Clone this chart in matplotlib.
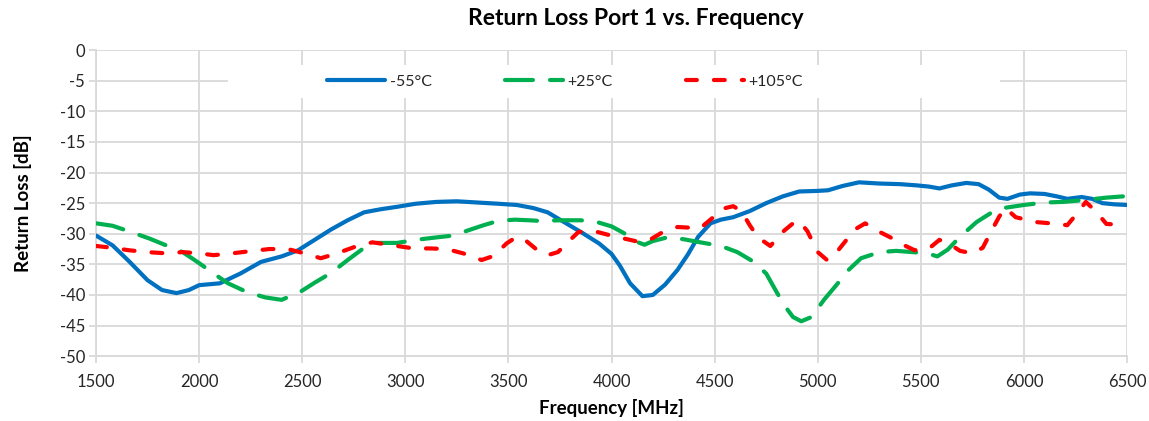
import matplotlib
matplotlib.use("Agg")
import matplotlib.pyplot as plt
from matplotlib.patches import Rectangle

plt.rcParams['font.family'] = ['Lato', 'DejaVu Sans']

# -55 C
freq_m55 = [1500, 1580, 1660, 1750, 1820, 1890, 1950, 2000, 2100, 2200, 2300, 2400,
            2480, 2560, 2640, 2720, 2800, 2880, 2960, 3050, 3150, 3250, 3350, 3450,
            3540, 3620, 3690, 3780, 3860, 3940, 4000, 4040, 4090, 4150, 4200, 4260,
            4320, 4370, 4420, 4480, 4530, 4590, 4670, 4750, 4830, 4910, 5000, 5050,
            5120, 5200, 5300, 5400, 5480, 5540, 5590, 5650, 5720, 5780, 5830, 5880,
            5920, 5980, 6030, 6100, 6160, 6210, 6280, 6330, 6380, 6440, 6500]
rl_m55 = [-30.3, -31.9, -34.5, -37.6, -39.2, -39.7, -39.2, -38.4, -38.1, -36.5, -34.6, -33.7,
          -32.7, -31.0, -29.3, -27.8, -26.5, -26.0, -25.6, -25.1, -24.8, -24.7, -24.9, -25.1,
          -25.3, -25.8, -26.5, -28.3, -29.9, -31.6, -33.3, -35.2, -38.1, -40.2, -40.0, -38.3,
          -35.9, -33.4, -30.5, -28.3, -27.7, -27.3, -26.3, -25.0, -23.9, -23.1, -23.0, -22.9,
          -22.2, -21.6, -21.8, -21.9, -22.1, -22.3, -22.6, -22.1, -21.7, -21.9, -22.8, -24.1,
          -24.3, -23.6, -23.4, -23.5, -23.9, -24.3, -24.0, -24.3, -25.0, -25.2, -25.3]

# +25 C
freq_p25 = [1500, 1580, 1660, 1760, 1840, 1920, 2000, 2070, 2140, 2230, 2320, 2400,
            2490, 2560, 2640, 2720, 2800, 2850, 2960, 3050, 3150, 3230, 3300, 3380,
            3450, 3530, 3600, 3650, 3750, 3850, 3930, 4000, 4060, 4120, 4160, 4200,
            4270, 4350, 4430, 4530, 4610, 4680, 4750, 4800, 4840, 4880, 4920, 4970,
            5030, 5090, 5150, 5210, 5300, 5380, 5460, 5530, 5580, 5630, 5690, 5770,
            5840, 5900, 6000, 6100, 6190, 6290, 6400, 6480]
rl_p25 = [-28.3, -28.7, -29.6, -30.8, -31.9, -33.0, -34.8, -36.5, -38.1, -39.5, -40.4, -40.8,
          -39.5, -38.0, -36.4, -34.3, -32.3, -31.5, -31.5, -31.0, -30.6, -30.3, -29.5, -28.6,
          -27.9, -27.7, -27.8, -27.9, -27.8, -27.8, -28.1, -28.8, -29.9, -31.3, -31.8, -31.2,
          -30.6, -30.9, -31.4, -32.0, -33.0, -34.4, -36.5, -39.5, -41.8, -43.6, -44.3, -43.6,
          -40.8, -38.4, -35.9, -34.0, -33.0, -32.8, -33.0, -33.2, -33.7, -32.6, -30.5, -28.1,
          -26.6, -25.8, -25.3, -24.9, -24.8, -24.5, -24.1, -23.9]

# +105 C
freq_p105 = [1500, 1580, 1660, 1750, 1840, 1920, 2000, 2070, 2160, 2260, 2340, 2430,
             2510, 2590, 2660, 2750, 2840, 2940, 3040, 3120, 3200, 3280, 3370, 3430,
             3490, 3540, 3580, 3630, 3690, 3740, 3790, 3840, 3930, 4020, 4090, 4140,
             4190, 4240, 4320, 4430, 4490, 4540, 4590, 4630, 4670, 4710, 4770, 4830,
             4880, 4910, 4950, 5000, 5045, 5080, 5130, 5180, 5230, 5300, 5370, 5420,
             5470, 5540, 5590, 5640, 5690, 5750, 5800, 5840, 5880, 5910, 5960, 6060,
             6130, 6210, 6255, 6300, 6350, 6400, 6450, 6500]
rl_p105 = [-32.0, -32.3, -32.7, -33.0, -33.2, -33.0, -33.2, -33.5, -33.2, -32.8, -32.5, -32.5,
           -33.2, -34.0, -33.3, -32.2, -31.4, -31.9, -32.4, -32.4, -32.5, -33.2, -34.3, -33.6,
           -31.6, -30.5, -31.0, -32.4, -33.5, -33.0, -31.3, -29.7, -29.7, -30.5, -31.0, -31.4,
           -30.9, -29.9, -28.9, -29.1, -27.4, -25.9, -25.5, -26.3, -28.6, -30.6, -32.0, -29.7,
           -28.3, -27.9, -29.6, -33.0, -34.3, -33.5, -31.4, -29.3, -28.3, -29.7, -30.9, -31.9,
           -32.7, -32.4, -31.0, -31.7, -32.8, -33.2, -32.3, -29.7, -27.2, -25.8, -27.3, -28.1,
           -28.3, -28.6, -26.8, -24.8, -26.4, -28.4, -28.5, -28.4]

x_ticks = [1500, 2000, 2500, 3000, 3500, 4000, 4500, 5000, 5500, 6000, 6500]
y_ticks = [0, -5, -10, -15, -20, -25, -30, -35, -40, -45, -50]

grid_col = '#D9D9D9'
text_col = '#262626'

fig = plt.figure(figsize=(11.49, 4.21), dpi=100)
ax = fig.add_axes([0.0836, 0.154, 0.8973, 0.727])

ax.plot(freq_m55, rl_m55, color='#0070C0', lw=3, solid_capstyle='round',
        solid_joinstyle='round', label='-55°C', zorder=3)
ax.plot(freq_p25, rl_p25, color='#00B050', lw=3, dashes=(6.7, 4.1),
        dash_capstyle='round', label='+25°C', zorder=4)
ax.plot(freq_p105, rl_p105, color='#FF0000', lw=3, dashes=(2.6, 4.1),
        dash_capstyle='round', label='+105°C', zorder=5)

ax.set_xlim(1500, 6500)
ax.set_ylim(-50, 0)
ax.set_xticks(x_ticks)
ax.set_yticks(y_ticks)
ax.set_yticklabels([str(v) for v in y_ticks])
ax.grid(True, color=grid_col, lw=1.3, zorder=0)
ax.set_axisbelow(True)
for s in ['top', 'right']:
    ax.spines[s].set_visible(False)
for s in ['left', 'bottom']:
    ax.spines[s].set_color(grid_col)
    ax.spines[s].set_linewidth(1.3)
ax.tick_params(axis='both', colors=grid_col, length=5, width=1.3,
               labelcolor=text_col, labelsize=12)
ax.tick_params(axis='x', pad=8)
ax.tick_params(axis='y', pad=3)

ax.set_xlabel('Frequency [MHz]', fontsize=13.5, fontweight='bold', color='black', labelpad=6)
ax.set_ylabel('Return Loss [dB]', fontsize=13.5, fontweight='bold', color='black', labelpad=20)

fig.text(0.553, 0.957, 'Return Loss Port 1 vs. Frequency', ha='center', va='center',
         fontsize=16.5, fontweight='bold', color='black')

# white legend band over the grid
ax.add_patch(Rectangle((0.128, 0.845), 0.749, 0.105, transform=ax.transAxes,
                       facecolor='white', edgecolor='none', zorder=1.5))
leg = ax.legend(loc='center', bbox_to_anchor=(0.455, 0.897), ncol=3, frameon=False,
                handlelength=3.6, handletextpad=0.3, columnspacing=4.6,
                fontsize=11.5, borderaxespad=0)
for t in leg.get_texts():
    t.set_color(text_col)

fig.savefig('out.png', dpi=100)
